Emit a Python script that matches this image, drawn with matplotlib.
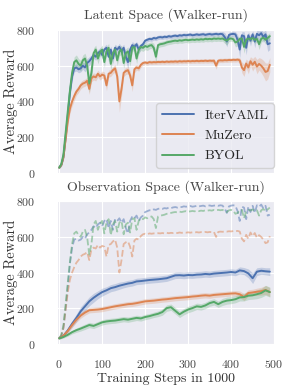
import matplotlib
matplotlib.use("Agg")
import matplotlib.pyplot as plt
import numpy as np
import seaborn as sns

# training steps (in 1000) for the two panels
steps_lat = np.arange(0, 495, 5)
steps_obs = np.arange(0, 500, 10)

# latent space (Walker-run): mean reward and band half-width
iter_lat = [30, 45, 90, 200, 320, 450, 540, 585, 590, 580,
            585, 600, 590, 615, 625, 640, 660, 650, 670, 680,
            660, 690, 700, 650, 690, 640, 700, 690, 705, 680,
            700, 650, 620, 690, 715, 705, 720, 690, 710, 720,
            740, 745, 750, 748, 755, 752, 758, 760, 758, 762,
            760, 765, 762, 766, 768, 765, 770, 768, 772, 770,
            772, 774, 770, 772, 775, 772, 774, 776, 772, 775,
            777, 774, 776, 778, 775, 778, 776, 760, 735, 772,
            776, 778, 775, 745, 690, 770, 765, 700, 770, 740,
            775, 735, 778, 770, 782, 760, 775, 720, 725]
iter_lat_sd = [5, 8, 15, 25, 30, 30, 25, 20, 20, 20,
               20, 20, 25, 25, 25, 20, 20, 20, 20, 20,
               20, 20, 20, 30, 20, 30, 20, 20, 20, 25,
               20, 30, 35, 20, 20, 20, 15, 25, 15, 15,
               12, 12, 12, 12, 12, 12, 12, 12, 12, 12,
               12, 12, 12, 12, 12, 12, 12, 12, 12, 12,
               12, 12, 12, 12, 12, 12, 12, 12, 12, 12,
               12, 12, 12, 12, 12, 12, 15, 25, 30, 15,
               15, 15, 15, 30, 45, 20, 25, 40, 20, 30,
               20, 35, 20, 25, 20, 30, 25, 40, 35]

muzero_lat = [30, 45, 90, 190, 290, 360, 400, 430, 455, 470,
              490, 500, 505, 515, 470, 530, 540, 535, 555, 540,
              550, 545, 490, 555, 560, 575, 585, 540, 400, 470,
              560, 570, 575, 545, 490, 580, 590, 585, 605, 615,
              618, 615, 620, 618, 620, 619, 621, 620, 622, 620,
              623, 621, 623, 622, 624, 622, 625, 623, 625, 624,
              626, 624, 626, 625, 627, 625, 627, 626, 628, 626,
              628, 627, 628, 600, 628, 630, 629, 631, 630, 632,
              631, 633, 632, 634, 630, 590, 575, 612, 590, 625,
              605, 622, 595, 610, 600, 585, 565, 570, 605]
muzero_lat_sd = [5, 8, 15, 20, 25, 25, 25, 25, 20, 20,
                 20, 20, 20, 20, 30, 20, 20, 20, 20, 20,
                 20, 20, 30, 20, 20, 20, 20, 30, 60, 40,
                 20, 20, 20, 25, 35, 20, 15, 15, 15, 12,
                 12, 12, 12, 12, 12, 12, 12, 12, 12, 12,
                 12, 12, 12, 12, 12, 12, 12, 12, 12, 12,
                 12, 12, 12, 12, 12, 12, 12, 12, 12, 12,
                 12, 12, 12, 20, 12, 12, 12, 12, 12, 12,
                 12, 12, 12, 12, 15, 30, 35, 25, 35, 25,
                 35, 30, 40, 35, 40, 45, 50, 45, 40]

byol_lat = [30, 50, 105, 225, 345, 460, 560, 620, 630, 610,
            600, 630, 640, 600, 500, 560, 670, 690, 640, 675,
            690, 620, 680, 700, 610, 670, 690, 630, 680, 690,
            615, 670, 680, 625, 700, 705, 640, 690, 705, 700,
            710, 705, 712, 715, 700, 650, 715, 720, 722, 725,
            730, 733, 735, 738, 740, 738, 742, 740, 743, 745,
            742, 744, 746, 744, 747, 745, 748, 746, 750, 748,
            750, 748, 752, 750, 752, 750, 752, 745, 740, 750,
            752, 748, 730, 735, 750, 752, 705, 745, 752, 748,
            755, 745, 750, 720, 750, 757, 745, 755, 765]
byol_lat_sd = [5, 8, 15, 25, 30, 30, 30, 30, 30, 30,
               30, 30, 30, 35, 50, 40, 30, 25, 30, 25,
               25, 30, 25, 25, 35, 30, 25, 30, 25, 25,
               30, 25, 25, 30, 20, 20, 30, 20, 20, 20,
               20, 20, 18, 18, 25, 35, 15, 15, 15, 15,
               15, 15, 15, 15, 15, 15, 15, 15, 15, 15,
               15, 15, 15, 15, 15, 15, 15, 15, 15, 15,
               15, 15, 15, 15, 15, 15, 15, 20, 25, 15,
               15, 15, 25, 25, 15, 15, 35, 20, 15, 15,
               15, 20, 15, 30, 20, 15, 25, 20, 20]

# observation space (Walker-run)
iter_obs = [30, 45, 75, 112, 145, 182, 210, 238, 258, 275,
            290, 300, 312, 318, 326, 332, 338, 342, 350, 352,
            355, 358, 360, 362, 365, 368, 376, 384, 385, 383,
            386, 385, 388, 389, 392, 390, 394, 396, 398, 400,
            403, 400, 412, 408, 395, 368, 405, 410, 407, 405]
iter_obs_sd = [5, 8, 12, 18, 22, 25, 25, 25, 25, 22,
               22, 20, 20, 20, 20, 18, 18, 18, 18, 18,
               18, 18, 18, 18, 18, 18, 18, 18, 18, 18,
               18, 18, 18, 18, 18, 18, 18, 18, 18, 18,
               18, 18, 20, 20, 25, 30, 22, 20, 20, 22]

muzero_obs = [30, 45, 72, 105, 135, 158, 175, 188, 190, 192,
              195, 200, 205, 210, 214, 218, 222, 224, 228, 233,
              238, 240, 242, 245, 248, 250, 253, 256, 258, 260,
              262, 265, 267, 270, 272, 270, 274, 276, 278, 280,
              282, 283, 278, 262, 285, 288, 292, 295, 302, 290]
muzero_obs_sd = [5, 8, 12, 15, 15, 15, 15, 15, 15, 15,
                 15, 15, 15, 15, 15, 15, 15, 15, 15, 15,
                 15, 15, 15, 15, 15, 15, 15, 15, 15, 15,
                 15, 15, 15, 15, 15, 15, 15, 15, 15, 15,
                 15, 15, 18, 20, 18, 18, 20, 22, 25, 25]

byol_obs = [30, 38, 50, 65, 76, 85, 95, 105, 100, 110,
            120, 125, 128, 130, 134, 138, 135, 140, 145, 142,
            150, 155, 162, 168, 178, 200, 205, 185, 165, 180,
            192, 200, 210, 207, 215, 228, 235, 222, 235, 242,
            245, 250, 260, 262, 270, 272, 278, 285, 300, 290]
byol_obs_sd = [5, 6, 8, 10, 12, 14, 15, 15, 15, 15,
               15, 15, 15, 15, 15, 15, 15, 15, 15, 15,
               15, 15, 15, 16, 18, 18, 18, 18, 18, 18,
               18, 18, 18, 18, 18, 18, 18, 18, 20, 20,
               20, 20, 20, 22, 22, 22, 25, 25, 28, 28]

names = ['IterVAML', 'MuZero', 'BYOL']
colors = ['#4C72B0', '#DD8452', '#55A868']

sns.set_style('darkgrid')
plt.rcParams['font.family'] = ['cmr10', 'DejaVu Serif']
plt.rcParams['axes.formatter.use_mathtext'] = True
plt.rcParams['axes.unicode_minus'] = False

fig = plt.figure(figsize=(2.91, 3.91), dpi=100)
ax1 = fig.add_axes([0.196, 0.5575, 0.746, 0.366])
ax2 = fig.add_axes([0.196, 0.121, 0.746, 0.364])

lat = [(iter_lat, iter_lat_sd), (muzero_lat, muzero_lat_sd), (byol_lat, byol_lat_sd)]
obs = [(iter_obs, iter_obs_sd), (muzero_obs, muzero_obs_sd), (byol_obs, byol_obs_sd)]

for (m, sd), c, name in zip(lat, colors, names):
    m, sd = np.array(m), np.array(sd)
    ax1.fill_between(steps_lat, m - sd, m + sd, color=c, alpha=0.25, lw=0)
    ax1.plot(steps_lat, m, color=c, lw=1.4, label=name)
    # latent results again as faded dashed reference in lower panel
    ax2.plot(steps_lat, m, color=c, lw=1.3, ls='--', alpha=0.5)

for (m, sd), c in zip(obs, colors):
    m, sd = np.array(m), np.array(sd)
    ax2.fill_between(steps_obs, m - sd, m + sd, color=c, alpha=0.25, lw=0)
    ax2.plot(steps_obs, m, color=c, lw=1.4)

for ax, title in [(ax1, 'Latent Space (Walker-run)'), (ax2, 'Observation Space (Walker-run)')]:
    ax.set_xlim(-5, 500)
    ax.set_ylim(0, 800)
    ax.set_xticks([0, 100, 200, 300, 400, 500])
    ax.set_yticks([0, 200, 400, 600, 800])
    ax.set_title(title, fontsize=10, pad=8, color='#444444')
    ax.set_ylabel('Average Reward', fontsize=10.5, color='#333333')
    ax.yaxis.set_label_coords(-0.18, 0.5)
    ax.tick_params(axis='y', labelsize=8.5, pad=12, colors='#444444')
    ax.tick_params(axis='x', labelsize=8.5, pad=7, colors='#444444')

ax1.set_xticklabels([])
ax2.set_xlabel('Training Steps in 1000', fontsize=10, color='#333333', labelpad=2)

ax1.legend(loc='lower right', bbox_to_anchor=(1.0, 0.035), borderaxespad=0,
           fontsize=10, handlelength=2.3, labelspacing=0.55, frameon=True)

fig.savefig('out.png', dpi=100)
